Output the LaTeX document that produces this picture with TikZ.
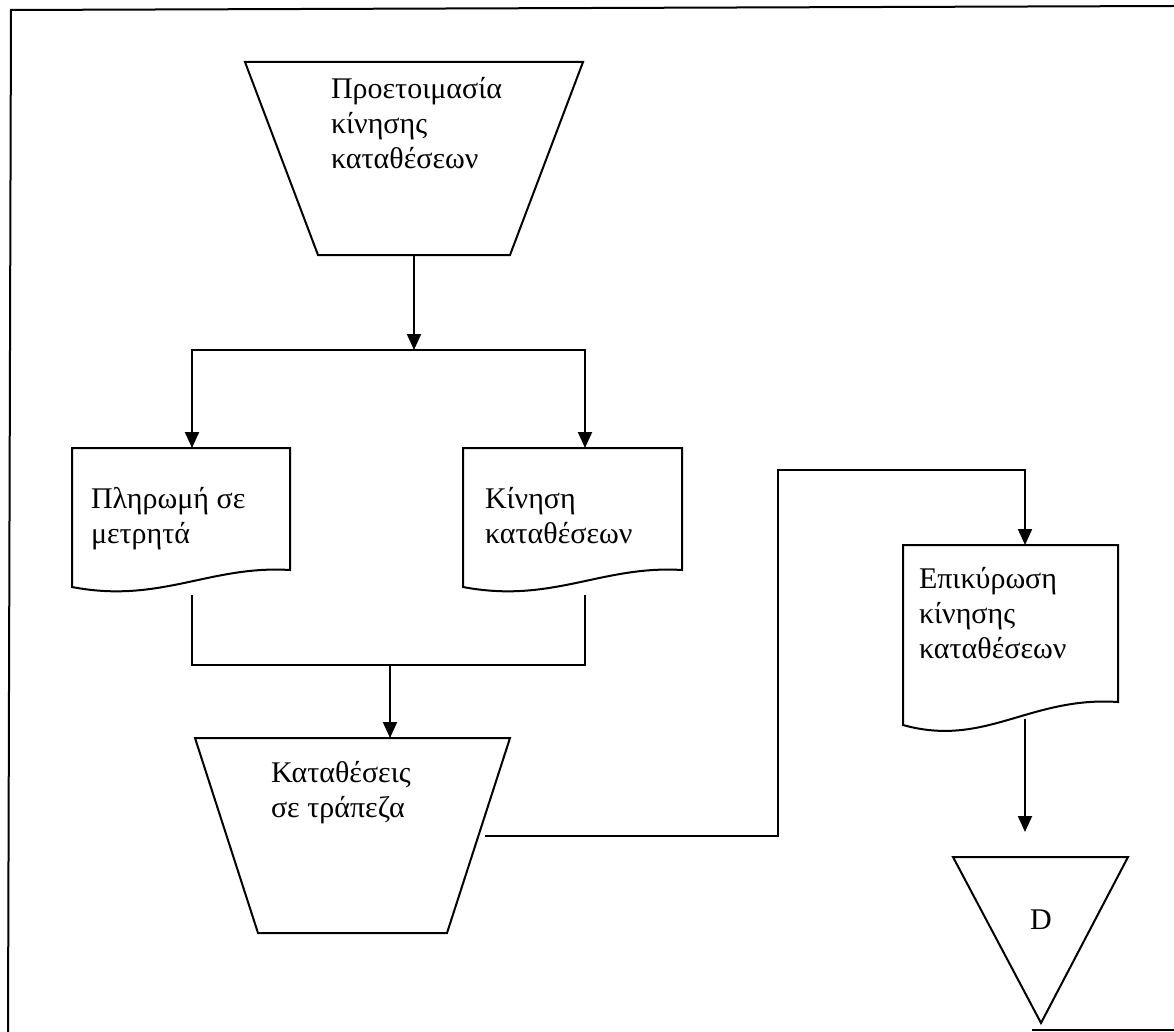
\documentclass[tikz,border=0pt]{standalone}
\usepackage{fontspec}
\setmainfont{Liberation Serif}
\usetikzlibrary{arrows.meta}
\begin{document}
\begin{tikzpicture}[x=1pt,y=-1pt,
  line width=2pt, line join=miter,
  outline/.style={draw=black, line width=2pt},
  link/.style={draw=black, line width=2pt},
  arr/.style={link, -{Triangle[length=16pt,width=14pt]}},
  lbl/.style={anchor=north west, inner sep=0pt, align=left,
              font=\fontsize{30}{35}\selectfont}]
\useasboundingbox (0,0) rectangle (1174,1032);

% page frame
\draw[outline] (1174,6) -- (11,10) -- (8,1032);
\draw[outline] (1032,1030) -- (1174,1030);

% preparation (manual operation trapezoid)
\draw[outline] (245,62) -- (583,62) -- (510,255) -- (318,255) -- cycle;
\node[lbl] (prep) at (330,76) {Προετοιμασία\\κίνησης\\καταθέσεων};
\coordinate (prep-s) at (414,255);

% two documents
\draw[outline] (72,448) -- (290,448) -- (290,570)
  .. controls (210,565) and (160,604) .. (72,587) -- cycle;
\node[lbl] (pay) at (90,486) {Πληρωμή σε\\μετρητά};
\coordinate (pay-n) at (192,448);
\coordinate (pay-s) at (192,595);

\draw[outline] (463,448) -- (682,448) -- (682,570)
  .. controls (602,565) and (552,604) .. (463,587) -- cycle;
\node[lbl] (mov) at (484,486) {Κίνηση\\καταθέσεων};
\coordinate (mov-n) at (585,448);
\coordinate (mov-s) at (585,595);

% bank deposits trapezoid
\draw[outline] (195,738) -- (510,738) -- (447,933) -- (258,933) -- cycle;
\node[lbl] (bank) at (270,760) {Καταθέσεις\\σε τράπεζα};
\coordinate (bank-n) at (390,738);
\coordinate (bank-e) at (485,836);

% validation document
\draw[outline] (903,545) -- (1118,545) -- (1118,702)
  .. controls (1030,696) and (985,748) .. (903,725) -- cycle;
\node[lbl] (val) at (918,566) {Επικύρωση\\κίνησης\\καταθέσεων};
\coordinate (val-n) at (1025,545);
\coordinate (val-s) at (1025,719);

% file (inverted triangle)
\draw[outline] (953,857) -- (1128,857) -- (1041,1023) -- cycle;
\node[font=\fontsize{30}{35}\selectfont, inner sep=0pt] (file) at (1041,920) {D};
\coordinate (file-in) at (1025,832);

% connectors
\coordinate (fork) at (414,350);
\coordinate (join) at (390,665);
\coordinate (bend) at (778,470);

\draw[arr] (prep-s) -- (fork);
\draw[arr] (fork) -| (pay-n);
\draw[arr] (fork) -| (mov-n);
\draw[link] (pay-s) |- (join) -| (mov-s);
\draw[arr] (join) -- (bank-n);
\draw[arr] (bank-e) -| (bend) -| (val-n);
\draw[arr] (val-s) -- (file-in);
\end{tikzpicture}
\end{document}
